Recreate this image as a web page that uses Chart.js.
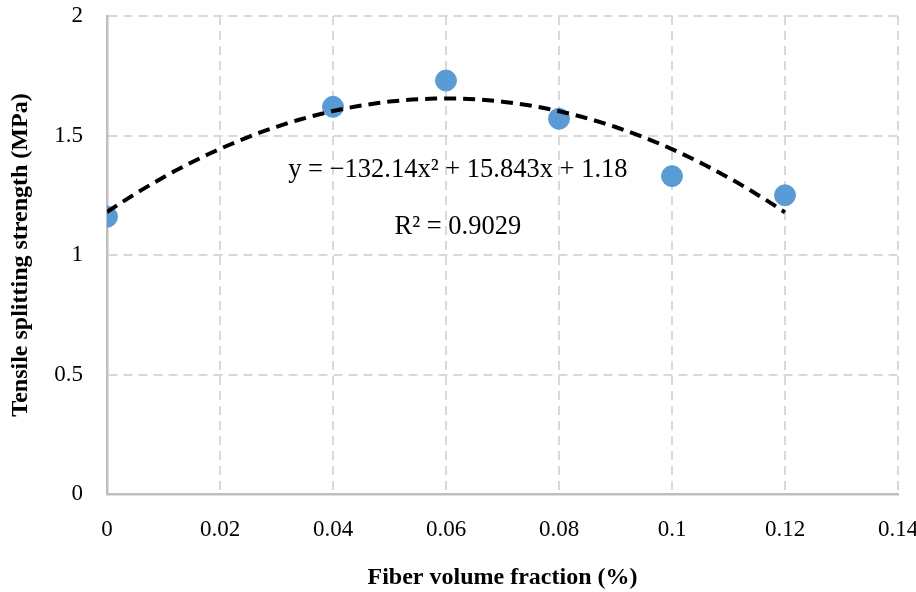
<!DOCTYPE html>
<html><head><meta charset="utf-8">
<script src="https://cdn.jsdelivr.net/npm/chart.js@4.4.1/dist/chart.umd.min.js"></script>
<style>html,body{margin:0;padding:0;background:#fff}#wrap{width:916px;height:592px}</style>
</head><body><div id="wrap"><canvas id="c" width="916" height="592"></canvas></div>
<script>
const fiberFraction = [0, 0.04, 0.06, 0.08, 0.1, 0.12];
const splittingStrength = [1.16, 1.62, 1.73, 1.57, 1.33, 1.25];
const trendCoefficients = [-132.14, 15.843, 1.18]; // a, b, c from displayed equation
const trendRange = [0, 0.12];
const xTicks = [0, 0.02, 0.04, 0.06, 0.08, 0.1, 0.12, 0.14];
const yTicks = [0, 0.5, 1, 1.5, 2];
const equationLabel = 'y = \u2212132.14x\u00B2 + 15.843x + 1.18';
const r2Label = 'R\u00B2 = 0.9029';

const trendPts = [];
for (let i = 0; i <= 60; i++) {
  const x = trendRange[0] + (trendRange[1] - trendRange[0]) * i / 60;
  trendPts.push({x, y: trendCoefficients[0]*x*x + trendCoefficients[1]*x + trendCoefficients[2]});
}

const textPlugin = {
  id: 'eqText',
  afterDatasetsDraw(chart) {
    const {ctx, scales} = chart;
    ctx.save();
    ctx.fillStyle = '#000';
    ctx.font = '26.5px "Liberation Serif", serif';
    ctx.textAlign = 'center';
    ctx.textBaseline = 'middle';
    ctx.fillText(equationLabel, scales.x.getPixelForValue(0.0621), scales.y.getPixelForValue(1.356));
    ctx.fillText(r2Label, scales.x.getPixelForValue(0.0621), scales.y.getPixelForValue(1.117));
    ctx.restore();
  }
};

new Chart(document.getElementById('c'), {
  type: 'scatter',
  data: {
    datasets: [
      {
        data: fiberFraction.map((x, i) => ({x, y: splittingStrength[i]})),
        backgroundColor: '#5B9BD5',
        borderColor: '#5B9BD5',
        pointRadius: 10.5,
        pointHoverRadius: 10.5,
        order: 2
      },
      {
        type: 'line',
        data: trendPts,
        borderColor: '#000',
        borderWidth: 4,
        borderDash: [12, 7],
        pointRadius: 0,
        fill: false,
        tension: 0,
        order: 1
      }
    ]
  },
  plugins: [textPlugin],
  options: {
    responsive: false,
    animation: false,
    events: [],
    layout: {padding: {left: 0, top: 16, right: 18, bottom: 0}},
    plugins: {legend: {display: false}, tooltip: {enabled: false}},
    scales: {
      x: {
        type: 'linear', min: 0, max: 0.14,
        afterBuildTicks(s) { s.ticks = xTicks.map(v => ({value: v})); },
        afterFit(s) { s.height = 98; s.paddingLeft = 0; s.paddingRight = 0; },
        grid: {color: '#D9D9D9', lineWidth: 2, drawTicks: false},
        border: {display: true, color: '#BFBFBF', width: 2.5, dash: [9, 6]},
        ticks: {color: '#000', padding: 22, font: {family: '"Liberation Serif", serif', size: 23},
          callback: v => String(+v.toFixed(2))},
        title: {display: true, text: 'Fiber volume fraction (%)', color: '#000',
          font: {family: '"Liberation Serif", serif', size: 24, weight: 'bold'}, padding: {top: 0, bottom: 0}}
      },
      y: {
        type: 'linear', min: 0, max: 2,
        afterBuildTicks(s) { s.ticks = yTicks.map(v => ({value: v})); },
        afterFit(s) { s.width = 107; s.paddingTop = 0; s.paddingBottom = 0; },
        grid: {color: '#D9D9D9', lineWidth: 2, drawTicks: false},
        border: {display: true, color: '#BFBFBF', width: 2.5, dash: [9, 6]},
        ticks: {color: '#000', padding: 24, font: {family: '"Liberation Serif", serif', size: 23},
          callback: v => String(v)},
        title: {display: true, text: 'Tensile splitting strength (MPa)', color: '#000',
          font: {family: '"Liberation Serif", serif', size: 24, weight: 'bold'}, padding: {top: 6, bottom: 0}}
      }
    }
  }
});
</script></body></html>
